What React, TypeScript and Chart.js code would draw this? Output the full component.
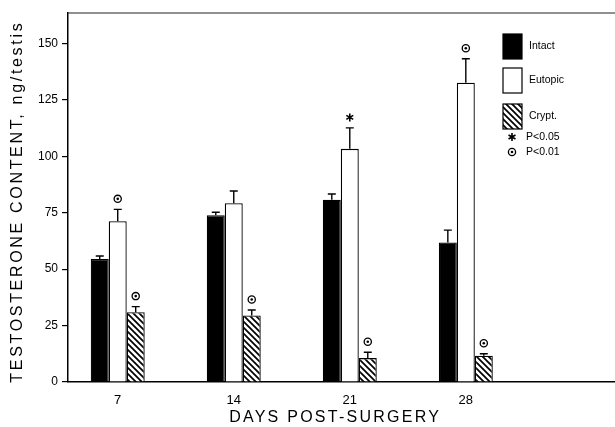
import React, { useEffect, useRef } from "react";
import { Chart, registerables } from "chart.js";

Chart.register(...registerables);

const days = [7, 14, 21, 28];
const intact = [54.5, 73.9, 80.7, 61.8];
const intactErr = [1.3, 1.3, 2.6, 5.5];
const eutopic = [71.2, 79.2, 103.3, 132.6];
const eutopicErr = [5.3, 5.4, 9.3, 10.6];
const crypt = [30.9, 29.5, 10.6, 11.6];
const cryptErr = [2.5, 2.4, 2.6, 0.9];
const intactSig = ["", "", "", ""];
const eutopicSig = ["circle", "", "star", "circle"];
const cryptSig = ["circle", "circle", "circle", "circle"];
const yTicks = [0, 25, 50, 75, 100, 125, 150];
const seriesNames = ["Intact", "Eutopic", "Crypt."];
const sigLegend: [string, string][] = [
  ["star", "P<0.05"],
  ["circle", "P<0.01"],
];
const xTitle = "DAYS POST-SURGERY";
const yTitle = "TESTOSTERONE CONTENT, ng/testis";

const FONT = "'Liberation Sans', Arial, sans-serif";

function makeHatch(ctx: CanvasRenderingContext2D) {
  const s = 6;
  const c = document.createElement("canvas");
  c.width = s;
  c.height = s;
  const g = c.getContext("2d")!;
  g.fillStyle = "#fff";
  g.fillRect(0, 0, s, s);
  g.strokeStyle = "#000";
  g.lineWidth = 1.7;
  g.beginPath();
  g.moveTo(-1, -1);
  g.lineTo(s + 1, s + 1);
  g.moveTo(-1, s - 1);
  g.lineTo(1, s + 1);
  g.moveTo(s - 1, -1);
  g.lineTo(s + 1, 1);
  g.stroke();
  return ctx.createPattern(c, "repeat")!;
}

function drawCircleMark(ctx: CanvasRenderingContext2D, x: number, y: number) {
  ctx.save();
  ctx.strokeStyle = "#000";
  ctx.fillStyle = "#000";
  ctx.lineWidth = 1.3;
  ctx.beginPath();
  ctx.arc(x, y, 3.6, 0, Math.PI * 2);
  ctx.stroke();
  ctx.beginPath();
  ctx.arc(x, y, 1.3, 0, Math.PI * 2);
  ctx.fill();
  ctx.restore();
}

function drawStarMark(ctx: CanvasRenderingContext2D, x: number, y: number) {
  ctx.save();
  ctx.strokeStyle = "#000";
  ctx.lineWidth = 1.6;
  ctx.beginPath();
  const r = 4;
  for (let k = 0; k < 3; k++) {
    const a = Math.PI / 2 + (k * Math.PI) / 3;
    ctx.moveTo(x - r * Math.cos(a), y - r * Math.sin(a));
    ctx.lineTo(x + r * Math.cos(a), y + r * Math.sin(a));
  }
  ctx.stroke();
  ctx.restore();
}

function drawMark(ctx: CanvasRenderingContext2D, kind: string, x: number, y: number) {
  if (kind === "circle") drawCircleMark(ctx, x, y);
  else if (kind === "star") drawStarMark(ctx, x, y);
}

function spacedText(
  ctx: CanvasRenderingContext2D,
  text: string,
  x: number,
  y: number,
  target: number
) {
  (ctx as any).letterSpacing = "0px";
  const w = ctx.measureText(text).width;
  const ls = Math.max(0, (target - w) / text.length);
  (ctx as any).letterSpacing = ls + "px";
  ctx.fillText(text, x + ls / 2, y);
  (ctx as any).letterSpacing = "0px";
}

export default function App() {
  const ref = useRef<HTMLCanvasElement | null>(null);

  useEffect(() => {
    const canvas = ref.current!;
    const ctx = canvas.getContext("2d")!;
    const hatch = makeHatch(ctx);
    const vals = [intact, eutopic, crypt];
    const errs = [intactErr, eutopicErr, cryptErr];
    const sigs = [intactSig, eutopicSig, cryptSig];
    const fills: (string | CanvasPattern)[] = ["#000", "#fff", hatch];

    const decor = {
      id: "decor",
      afterDatasetsDraw(chart: any) {
        const c: CanvasRenderingContext2D = chart.ctx;
        const ys = chart.scales.y;
        c.save();
        c.strokeStyle = "#000";
        c.lineWidth = 1.4;
        vals.forEach((arr, di) => {
          const meta = chart.getDatasetMeta(di);
          meta.data.forEach((bar: any, i: number) => {
            const x = bar.x;
            const yTop = ys.getPixelForValue(arr[i]);
            const yErr = ys.getPixelForValue(arr[i] + errs[di][i]);
            c.beginPath();
            c.moveTo(x, yTop);
            c.lineTo(x, yErr);
            c.moveTo(x - 4, yErr);
            c.lineTo(x + 4, yErr);
            c.stroke();
            drawMark(c, sigs[di][i], x, yErr - 10.5);
          });
        });
        c.restore();
      },
      afterDraw(chart: any) {
        const c: CanvasRenderingContext2D = chart.ctx;
        const a = chart.chartArea;
        c.save();
        // top frame line
        c.strokeStyle = "#222";
        c.lineWidth = 1.2;
        c.beginPath();
        c.moveTo(a.left, a.top);
        c.lineTo(a.right, a.top);
        c.stroke();

        // legend
        const bx = 503;
        const bw = 19;
        const bh = 25;
        const boxTops = [34, 68, 104];
        c.font = "10.5px " + FONT;
        c.textBaseline = "middle";
        c.textAlign = "left";
        c.fillStyle = "#000";
        seriesNames.forEach((name, k) => {
          const t = boxTops[k];
          c.fillStyle = fills[k] as any;
          c.fillRect(bx, t, bw, bh);
          c.strokeStyle = "#000";
          c.lineWidth = 1.2;
          c.strokeRect(bx, t, bw, bh);
          c.fillStyle = "#000";
          c.fillText(name, 529, t + bh / 2);
        });
        const sigY = [137, 152];
        sigLegend.forEach(([kind, label], k) => {
          drawMark(c, kind, 512, sigY[k]);
          c.fillStyle = "#000";
          c.fillText(label, 526, sigY[k]);
        });

        // axis titles
        c.fillStyle = "#000";
        c.textAlign = "center";
        c.textBaseline = "middle";
        c.font = "16px " + FONT;
        spacedText(c, xTitle, 334, 418, 212);
        c.save();
        c.translate(18, 203);
        c.rotate(-Math.PI / 2);
        spacedText(c, yTitle, 0, 0, 362);
        c.restore();
        c.restore();
      },
    };

    const mk = (arr: number[]) => arr.map((v, i) => ({ x: days[i], y: v }));

    const chart = new Chart(canvas, {
      type: "bar",
      data: {
        datasets: [
          {
            label: seriesNames[0],
            data: mk(intact),
            backgroundColor: "#000",
            borderColor: "#000",
            borderWidth: 1.2,
          },
          {
            label: seriesNames[1],
            data: mk(eutopic),
            backgroundColor: "#fff",
            borderColor: "#000",
            borderWidth: 1.3,
          },
          {
            label: seriesNames[2],
            data: mk(crypt),
            backgroundColor: hatch as any,
            borderColor: "#000",
            borderWidth: 1.3,
          },
        ],
      } as any,
      options: {
        responsive: false,
        animation: false,
        devicePixelRatio: 1,
        layout: { padding: { top: 13, left: 0, right: 0, bottom: 0 } },
        datasets: { bar: { categoryPercentage: 0.465, barPercentage: 1 } } as any,
        plugins: {
          legend: { display: false },
          tooltip: { enabled: false },
        },
        scales: {
          x: {
            type: "linear",
            min: 4,
            max: 37,
            offset: false,
            afterBuildTicks: (s: any) => {
              s.ticks = days.map((v) => ({ value: v }));
            },
            afterFit: (s: any) => {
              s.height = 45;
            },
            grid: { display: false },
            border: { display: true, color: "#000", width: 1.5 },
            ticks: {
              color: "#000",
              font: { family: FONT, size: 13 },
              padding: 3,
              maxRotation: 0,
              autoSkip: false,
              callback: (v: any) => String(v),
            },
          },
          y: {
            min: 0,
            max: 163.5,
            afterBuildTicks: (s: any) => {
              s.ticks = yTicks.map((v) => ({ value: v }));
            },
            afterFit: (s: any) => {
              s.width = 68;
            },
            grid: {
              display: true,
              drawOnChartArea: false,
              drawTicks: true,
              tickLength: 6,
              color: "#000",
              lineWidth: 1.2,
            },
            border: { display: true, color: "#000", width: 1.5 },
            ticks: {
              color: "#000",
              font: { family: FONT, size: 12 },
              padding: 4,
              callback: (v: any) => String(v),
            },
          },
        } as any,
      },
      plugins: [decor],
    });
    return () => chart.destroy();
  }, []);

  return (
    <div style={{ position: "fixed", left: 0, top: 0, width: 615, height: 427, background: "#fff" }}>
      <canvas ref={ref} width={615} height={427} style={{ display: "block", width: 615, height: 427 }} />
    </div>
  );
}
